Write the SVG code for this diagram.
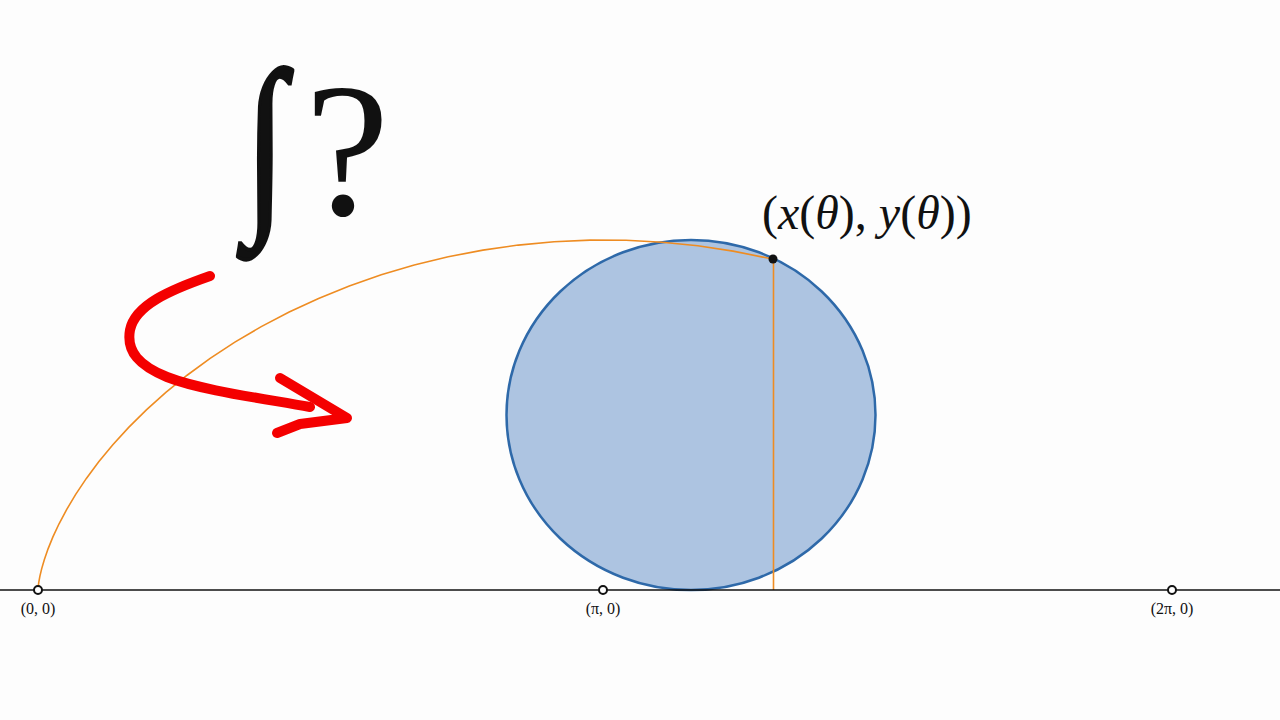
<svg xmlns="http://www.w3.org/2000/svg" width="1280" height="720" viewBox="0 0 1280 720">
<style>
.lbl{font-family:"Liberation Serif","DejaVu Serif",serif;fill:#111;}
.axlbl{font-family:"Liberation Serif","DejaVu Serif",serif;font-size:16px;fill:#111;text-anchor:middle;}
.pt{fill:#fff;stroke:#111;stroke-width:2;}
.orange{fill:none;stroke:#ee8c22;stroke-width:1.6;}
.red{fill:none;stroke:#f40000;stroke-width:10;stroke-linecap:round;stroke-linejoin:round;}
</style>
<rect width="1280" height="720" fill="#fdfdfd"/>
<g id="wheel">
<ellipse cx="691" cy="415" rx="184.5" ry="175" fill="#adc4e1" stroke="#2e69a9" stroke-width="2.5"/>
</g>
<g id="connectors">
<polyline class="orange" points="38,590 38.03,589.13 38.24,586.51 38.81,582.18 39.91,576.19 41.71,568.58 44.38,559.43 48.07,548.85 52.92,536.92 59.06,523.78 66.61,509.55 75.69,494.38 86.37,478.41 98.73,461.81 112.83,444.74 128.70,427.38 146.38,409.89 165.86,392.45 187.12,375.24 210.14,358.42 234.87,342.17 261.24,326.65 289.17,312.01 318.55,298.40 349.28,285.96 381.23,274.80 414.25,265.04 448.21,256.79 482.93,250.11 518.27,245.08 554.03,241.75 590.05,240.15 626.14,240.30 662.12,242.19 697.82,245.81 733.06,251.12 767.67,258.07 773.5,259.4"/>
<line class="orange" x1="773.5" y1="259.4" x2="773.5" y2="590"/>
<line x1="0" y1="590" x2="1280" y2="590" stroke="#111" stroke-width="1.5"/>
</g>
<g id="arrow">
<path class="red" d="M210,276 C170,290 135,305 130,330 C126,352 140,366 167,377 C200,390 260,398 310,407"/>
<path class="red" d="M280,378 L347,418 L300,424 L277,433"/>
</g>
<g id="points">
<circle class="pt" cx="38" cy="590" r="4"/>
<circle class="pt" cx="603" cy="590" r="4"/>
<circle class="pt" cx="1172" cy="590" r="4"/>
<circle cx="773" cy="259" r="4.5" fill="#111"/>
</g>
<g id="labels">
<text class="axlbl" x="38" y="614">(0, 0)</text>
<text class="axlbl" x="603" y="614">(π, 0)</text>
<text class="axlbl" x="1172" y="614">(2π, 0)</text>
<text class="lbl" x="762" y="229" font-size="48">(<tspan font-style="italic">x</tspan>(<tspan font-style="italic">θ</tspan>), <tspan font-style="italic">y</tspan>(<tspan font-style="italic">θ</tspan>))</text>
<text class="lbl" transform="translate(245,207) scale(0.75,1)" x="0" y="0" font-size="196" stroke="#111" stroke-width="4">∫</text>
<text class="lbl" x="305" y="214" font-size="190">?</text>
</g>
</svg>
